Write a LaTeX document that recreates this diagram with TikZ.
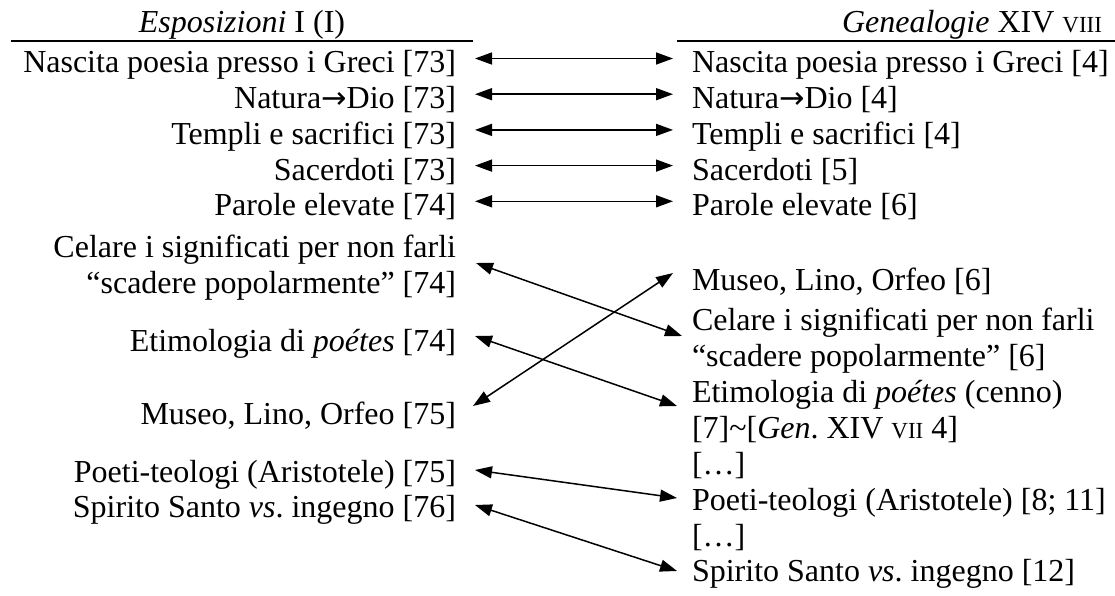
\documentclass[tikz,border=0pt]{standalone}
\usepackage{fontspec}
\setmainfont{Liberation Serif}
\newfontfamily\arrowfont{DejaVu Sans}[Scale=0.95]
\usetikzlibrary{arrows.meta,calc}
% reduced capitals for the roman book/chapter numerals
\newcommand\smallroman[1]{{\fontsize{23}{23}\selectfont #1}}
% full-width arrow between words
\newcommand\toarrow{{\arrowfont →}}

\begin{document}
\begin{tikzpicture}[x=1pt,y=-1pt,
  every node/.style={inner sep=0pt,outer sep=0pt,font=\fontsize{32}{36}\selectfont},
  lefttxt/.style={anchor=base east},
  righttxt/.style={anchor=base west},
  headtxt/.style={anchor=base},
  link/.style={line width=1.5pt,
    {Triangle[length=17pt,width=12pt]}-{Triangle[length=17pt,width=12pt]}},
  rulebar/.style={line width=1.5pt}]
\useasboundingbox (0,0) rectangle (1115,596);

% column headings and rules
\node[headtxt] (hL) at (242,33) {\textit{Esposizioni} I (I)};
\node[headtxt] (hR) at (972,33) {\textit{Genealogie} XIV \smallroman{VIII}};
\draw[rulebar] (11,41) -- (473,41);
\draw[rulebar] (677,41) -- (1115,41);

% left column: Esposizioni
\node[lefttxt] (l1)  at (456,73)    {Nascita poesia presso i Greci [73]};
\node[lefttxt] (l2)  at (456,108.7) {Natura\toarrow Dio [73]};
\node[lefttxt] (l3)  at (456,144.4) {Templi e sacrifici [73]};
\node[lefttxt] (l4)  at (456,180.1) {Sacerdoti [73]};
\node[lefttxt] (l5)  at (456,215.8) {Parole elevate [74]};
\node[lefttxt] (l6a) at (456,257)   {Celare i significati per non farli};
\node[lefttxt] (l6b) at (456,293)   {“scadere popolarmente” [74]};
\node[lefttxt] (l7)  at (456,351)   {Etimologia di \textit{poétes} [74]};
\node[lefttxt] (l8)  at (456,424)   {Museo, Lino, Orfeo [75]};
\node[lefttxt] (l9)  at (456,482)   {Poeti-teologi (Aristotele) [75]};
\node[lefttxt] (l10) at (456,517)   {Spirito Santo \textit{vs}.\ ingegno [76]};

% right column: Genealogie
\node[righttxt] (r1)  at (692,73)    {Nascita poesia presso i Greci [4]};
\node[righttxt] (r2)  at (692,108.7) {Natura\toarrow Dio [4]};
\node[righttxt] (r3)  at (692,144.4) {Templi e sacrifici [4]};
\node[righttxt] (r4)  at (692,180.1) {Sacerdoti [5]};
\node[righttxt] (r5)  at (692,215.8) {Parole elevate [6]};
\node[righttxt] (r6)  at (692,290)   {Museo, Lino, Orfeo [6]};
\node[righttxt] (r7a) at (692,330)   {Celare i significati per non farli};
\node[righttxt] (r7b) at (692,366)   {“scadere popolarmente” [6]};
\node[righttxt] (r8a) at (692,402)   {Etimologia di \textit{poétes} (cenno)};
\node[righttxt] (r8b) at (692,438)   {[7]\textasciitilde[\textit{Gen}.\ XIV \smallroman{VII} 4]};
\node[righttxt] (rg1) at (692,474)   {[…]};
\node[righttxt] (r9)  at (692,510)   {Poeti-teologi (Aristotele) [8; 11]};
\node[righttxt] (rg2) at (692,546)   {[…]};
\node[righttxt] (r10) at (692,581)   {Spirito Santo \textit{vs}.\ ingegno [12]};

% correspondences
\foreach \i in {1,...,5}
  \draw[link] ($(l\i.base east)+(19pt,14.5pt)$) -- ($(r\i.base west)+(-19pt,14.5pt)$);
\draw[link] ($(l6a.base east)!0.5!(l6b.base east)+(20pt,12pt)$)
         -- ($(r7a.base west)!0.5!(r7b.base west)+(-10pt,12pt)$);
\draw[link] ($(l7.base east)+(19pt,15pt)$)
         -- ($(r8a.base west)!0.5!(r8b.base west)+(-15pt,14pt)$);
\draw[link] ($(l8.base east)+(17pt,18pt)$) -- ($(r6.base west)+(-19pt,17pt)$);
\draw[link] ($(l9.base east)+(19pt,12pt)$) -- ($(r9.base west)+(-15pt,12pt)$);
\draw[link] ($(l10.base east)+(19pt,12pt)$) -- ($(r10.base west)+(-15pt,10pt)$);
\end{tikzpicture}
\end{document}
